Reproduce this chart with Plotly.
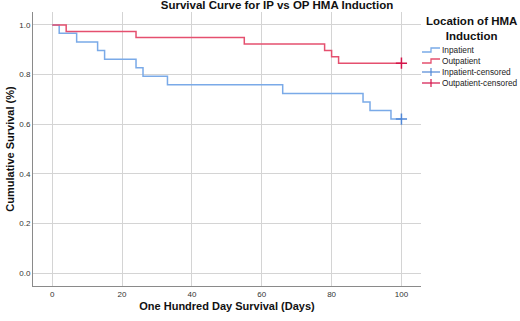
import plotly.graph_objects as go

# Data (Kaplan-Meier steps)
inpatient_days = [0, 2, 7, 13, 15, 24, 26, 33, 66, 89, 91, 97, 100]
inpatient_surv = [1.0, 0.966, 0.931, 0.897, 0.862, 0.828, 0.793, 0.759, 0.724, 0.690, 0.655, 0.621, 0.621]
outpatient_days = [0, 4, 24, 55, 78, 80, 82, 100]
outpatient_surv = [1.0, 0.974, 0.949, 0.923, 0.897, 0.872, 0.846, 0.846]
inpatient_censor_days = [100]
inpatient_censor_surv = [0.621]
outpatient_censor_days = [100]
outpatient_censor_surv = [0.846]

x_ticks = [0, 20, 40, 60, 80, 100]
y_ticks = [0.0, 0.2, 0.4, 0.6, 0.8, 1.0]
legend_labels = ["Inpatient", "Outpatient", "Inpatient-censored", "Outpatient-censored"]

BLUE = "#7aaae8"
RED = "#e5506f"
BLUE_M = "#4f86d6"
RED_M = "#d4144a"
FONT = "Liberation Sans, Arial, sans-serif"

W, H = 520, 321
L, R, T, B = 33, 421, 12, 286


def px(x):
    return (x - L) / (R - L)


def py(y):
    return (B - y) / (B - T)


fig = go.Figure()
fig.add_trace(go.Scatter(x=inpatient_days, y=inpatient_surv, mode="lines", line_shape="hv",
                         line=dict(color=BLUE, width=1.5), name=legend_labels[0]))
fig.add_trace(go.Scatter(x=outpatient_days, y=outpatient_surv, mode="lines", line_shape="hv",
                         line=dict(color=RED, width=1.5), name=legend_labels[1]))
fig.add_trace(go.Scatter(x=inpatient_censor_days, y=inpatient_censor_surv, mode="markers",
                         marker=dict(symbol="cross-thin", size=8, line=dict(color=BLUE_M, width=1.5)),
                         name=legend_labels[2]))
fig.add_trace(go.Scatter(x=outpatient_censor_days, y=outpatient_censor_surv, mode="markers",
                         marker=dict(symbol="cross-thin", size=8, line=dict(color=RED_M, width=1.5)),
                         name=legend_labels[3]))

# Compact legend drawn by hand (glyphs + labels)
shapes = []
annotations = [dict(text="<b>Location of HMA<br>Induction</b>", xref="paper", yref="paper",
                    x=px(471), y=py(28), xanchor="center", yanchor="middle", showarrow=False,
                    font=dict(size=11.5, color="#111111"))]
leg_colors = [BLUE, RED, BLUE_M, RED_M]
for i, (lab, col) in enumerate(zip(legend_labels, leg_colors)):
    yc = 50 + 11 * i
    if i < 2:
        path = (f"M {px(422)} {py(yc + 2)} L {px(431)} {py(yc + 2)} L {px(431)} {py(yc - 2)} "
                f"L {px(440)} {py(yc - 2)}")
        shapes.append(dict(type="path", xref="paper", yref="paper", path=path,
                           line=dict(color=col, width=1.3)))
    else:
        shapes.append(dict(type="line", xref="paper", yref="paper", x0=px(422), x1=px(440),
                           y0=py(yc), y1=py(yc), line=dict(color=col, width=1.2)))
        shapes.append(dict(type="line", xref="paper", yref="paper", x0=px(431), x1=px(431),
                           y0=py(yc - 4), y1=py(yc + 4), line=dict(color=col, width=1.2)))
    annotations.append(dict(text=lab, xref="paper", yref="paper", x=px(440), y=py(yc),
                            xanchor="left", yanchor="middle", showarrow=False,
                            font=dict(size=8.3, color="#222222")))

fig.update_layout(
    width=W, height=H,
    margin=dict(l=L, r=W - R, t=T, b=H - B, autoexpand=False),
    paper_bgcolor="white", plot_bgcolor="white",
    font=dict(family=FONT, color="#222222"),
    title=dict(text="<b>Survival Curve for IP vs OP HMA Induction</b>", x=277 / W, xanchor="center",
               y=1.0, yanchor="top", yref="container", pad=dict(t=1, b=0),
               font=dict(size=11.5, color="#111111")),
    xaxis=dict(range=[-5.5, 105.6], tickvals=x_ticks, ticktext=[str(v) for v in x_ticks],
               showgrid=True, gridcolor="#d4d4d4", gridwidth=1, zeroline=False,
               showline=True, linecolor="#8a8a8a", linewidth=1, ticks="", automargin=False,
               tickfont=dict(size=8, color="#333333"),
               title=dict(text="<b>One Hundred Day Survival (Days)</b>", font=dict(size=11, color="#111111"),
                          standoff=4)),
    yaxis=dict(range=[-0.051, 1.052], tickvals=y_ticks, ticktext=[f"{v:.1f}" for v in y_ticks],
               showgrid=True, gridcolor="#d4d4d4", gridwidth=1, zeroline=False,
               showline=True, linecolor="#8a8a8a", linewidth=1, ticks="", automargin=False,
               tickfont=dict(size=8, color="#333333"),
               title=dict(text="<b>Cumulative Survival (%)</b>", font=dict(size=11, color="#111111"),
                          standoff=2)),
    showlegend=False,
    shapes=shapes,
    annotations=annotations,
)

fig.write_html("out.html", config={"displayModeBar": False},
               post_script="document.body.style.margin='0';")
